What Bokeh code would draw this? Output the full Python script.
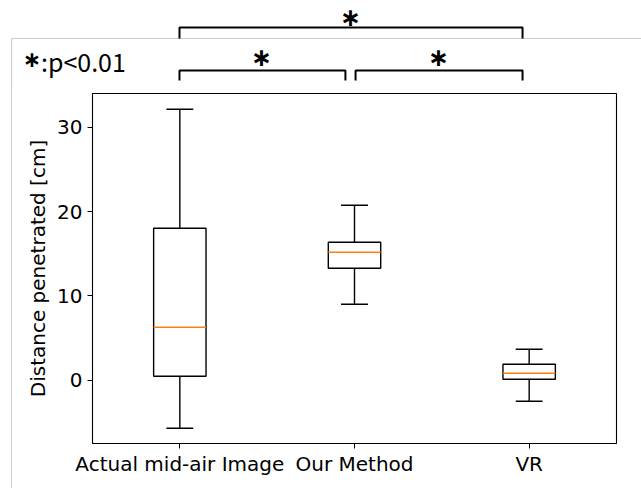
from bokeh.plotting import figure
from bokeh.models import Range1d, FactorRange, FixedTicker, ColumnDataSource
from bokeh.transform import dodge
from bokeh.layouts import column, row
from bokeh.core.properties import value
from bokeh.embed import file_html
from bokeh.resources import INLINE

# ---- data ----
categories = ["Actual mid-air Image", "Our Method", "VR"]
whisker_low = [-5.69, 9.01, -2.49]
q1 = [0.47, 13.28, 0.12]
median = [6.28, 15.18, 0.83]
q3 = [18.02, 16.36, 1.90]
whisker_high = [32.14, 20.75, 3.68]
y_ticks = [0, 10, 20, 30]
star = "∗"
sig_text = ":p<0.01"

FONT = "DejaVu Sans"
JFONT = "Noto Sans CJK JP"
GRAY = "#cccccc"

# ---- top strip with significance brackets ----
top = figure(width=641, height=88, x_range=Range1d(-0.5267, 3.143), y_range=Range1d(0, 88),
             output_backend="svg", toolbar_location=None, min_border=0,
             x_axis_location=None, y_axis_location=None)
top.grid.visible = False
top.outline_line_color = None
top.border_fill_color = None
top.background_fill_color = None

# light frame of the surrounding panel
top.segment(x0=[-0.4637, -0.4637], y0=[50, 50], x1=[3.143, -0.4637], y1=[50, 0],
            line_color=GRAY, line_width=1.2)

# brackets
top.multi_line(xs=[[0.498, 0.498, 2.462, 2.462],
                   [0.498, 0.498, 1.448, 1.448],
                   [1.506, 1.506, 2.462, 2.462]],
               ys=[[50, 61, 61, 50], [8, 18, 18, 8], [8, 18, 18, 8]],
               line_color="black", line_width=2)
top.text(x=[1.477, 0.968, 1.98], y=[71, 31, 31], text=[star] * 3,
         text_align="center", text_baseline="middle",
         text_font=value(FONT), text_font_size="25px", text_font_style="bold", text_color="black")
top.text(x=[-0.3465], y=[29], text=[star], text_align="center", text_baseline="middle",
         text_font=value(FONT), text_font_size="22px", text_font_style="bold", text_color="black")
top.text(x=[-0.295], y=[28], text=[sig_text], text_align="left", text_baseline="middle",
         text_font=value(JFONT), text_font_size="25px", text_color="black")

# ---- main box plot ----
src = ColumnDataSource(dict(cat=categories, lo=whisker_low, q1=q1, med=median, q3=q3, hi=whisker_high))

p = figure(width=641, height=400, x_range=FactorRange(factors=categories),
           y_range=Range1d(-7.5, 34.0), output_backend="svg", toolbar_location=None,
           min_border_left=92, min_border_right=25, min_border_top=5, min_border_bottom=45,
           styles={"background": "linear-gradient(to right, #fff 0px, #fff 11px, %s 11px, %s 12px, #fff 12px)" % (GRAY, GRAY)})
p.border_fill_color = None
p.background_fill_color = "white"

LW = 1.4
p.segment(x0="cat", y0="q3", x1="cat", y1="hi", source=src, line_color="black", line_width=LW)
p.segment(x0="cat", y0="q1", x1="cat", y1="lo", source=src, line_color="black", line_width=LW)
p.segment(x0=dodge("cat", -0.077, range=p.x_range), y0="hi",
          x1=dodge("cat", 0.077, range=p.x_range), y1="hi", source=src, line_color="black", line_width=LW)
p.segment(x0=dodge("cat", -0.077, range=p.x_range), y0="lo",
          x1=dodge("cat", 0.077, range=p.x_range), y1="lo", source=src, line_color="black", line_width=LW)
p.vbar(x="cat", width=0.3, bottom="q1", top="q3", source=src,
       fill_color="white", line_color="black", line_width=LW)
p.segment(x0=dodge("cat", -0.15, range=p.x_range), y0="med",
          x1=dodge("cat", 0.15, range=p.x_range), y1="med", source=src, line_color="#ff7f0e", line_width=LW)

p.grid.visible = False
p.outline_line_color = "black"
p.outline_line_width = 1.1
p.axis.axis_line_color = None
p.axis.major_tick_line_color = "black"
p.axis.major_tick_out = 5
p.axis.major_tick_in = 0
p.axis.minor_tick_line_color = None
p.axis.major_label_text_font = FONT
p.axis.major_label_text_font_size = "20px"
p.axis.major_label_text_color = "black"
p.yaxis.ticker = FixedTicker(ticks=y_ticks)
p.yaxis.axis_label = "Distance penetrated [cm]"
p.yaxis.axis_label_text_font = FONT
p.yaxis.axis_label_text_font_size = "20px"
p.yaxis.axis_label_text_font_style = "normal"
p.yaxis.axis_label_text_color = "black"
p.yaxis.axis_label_standoff = 4
p.xaxis.major_label_standoff = 3

layout = column(top, row(p), spacing=0)
open("out.html", "w").write(file_html(layout, INLINE))
